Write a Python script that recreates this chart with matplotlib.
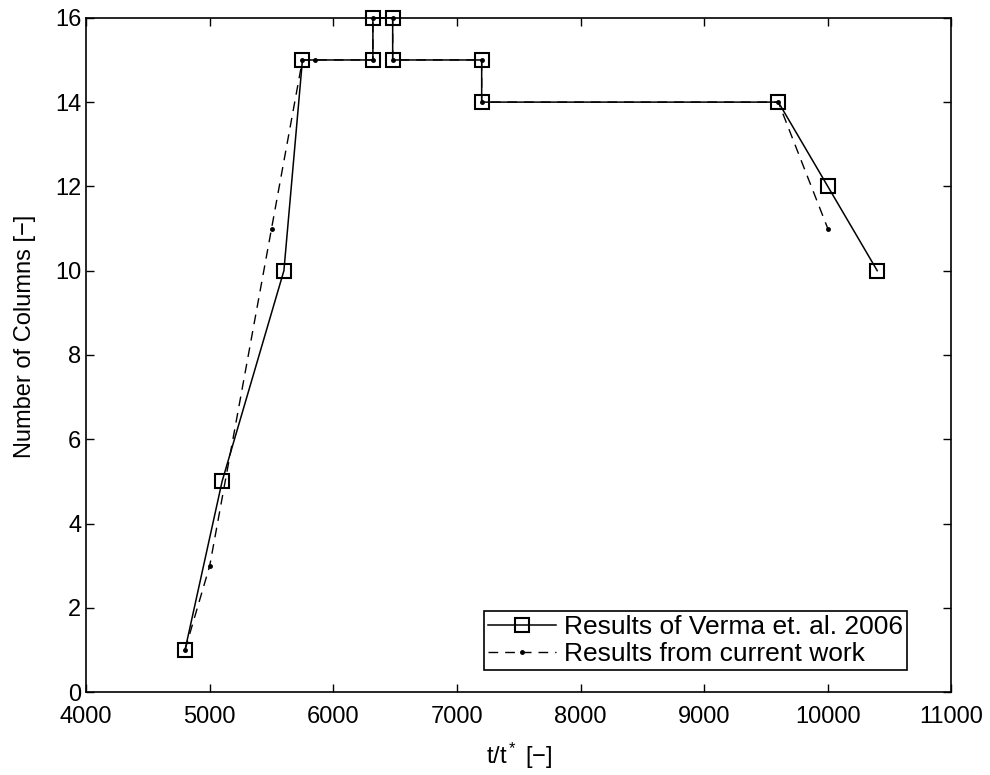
import matplotlib
matplotlib.use("Agg")
import matplotlib.pyplot as plt

# Verma et al. 2006
verma_t = [4800, 5100, 5600, 5750, 6320, 6320, 6480, 6480, 7200, 7200,
           9600, 10000, 10400]
verma_n = [1, 5, 10, 15, 15, 16, 16, 15, 15, 14, 14, 12, 10]

# current work
current_t = [4800, 5000, 5500, 5750, 5850, 6320, 6320, 6480, 6480, 7200,
             7200, 9600, 10000]
current_n = [1, 3, 11, 15, 15, 15, 16, 16, 15, 15, 14, 14, 11]

x_ticks = [4000, 5000, 6000, 7000, 8000, 9000, 10000, 11000]
y_ticks = [0, 2, 4, 6, 8, 10, 12, 14, 16]

plt.rcParams["font.family"] = ["Liberation Sans", "DejaVu Sans"]
plt.rcParams["mathtext.fontset"] = "custom"
plt.rcParams["mathtext.rm"] = "Liberation Sans"
plt.rcParams["mathtext.it"] = "Liberation Sans"

fig = plt.figure(figsize=(9.9, 7.75), dpi=100)
ax = fig.add_axes([0.087, 0.107, 0.874, 0.870])

ax.plot(verma_t, verma_n, "-", color="black", linewidth=1.1,
        marker="s", markersize=10, markerfacecolor="none",
        markeredgewidth=1.5, label="Results of Verma et. al. 2006",
        clip_on=False, zorder=3)
ax.plot(current_t, current_n, "--", color="black", linewidth=1.0,
        dashes=(7, 5), marker=".", markersize=5,
        label="Results from current work", clip_on=False, zorder=4)

ax.set_xlim(4000, 11000)
ax.set_ylim(0, 16)
ax.set_xticks(x_ticks)
ax.set_yticks(y_ticks)
ax.tick_params(direction="in", top=True, right=True, length=6,
               labelsize=17, width=1)
ax.tick_params(axis="x", pad=10)
for s in ax.spines.values():
    s.set_linewidth(1.2)

ax.set_xlabel("t/t$^*$ [\u2212]", fontsize=17)
ax.set_ylabel("Number of Columns [\u2212]", fontsize=17)
ax.xaxis.set_label_coords(0.5, -0.072)
ax.yaxis.set_label_coords(-0.058, 0.527)

leg = ax.legend(loc="lower right", bbox_to_anchor=(0.949, 0.033),
                borderaxespad=0, fontsize=19, fancybox=False,
                edgecolor="black", framealpha=1, handlelength=2.6,
                handletextpad=0.3, borderpad=0.15, labelspacing=0.1)
leg.get_frame().set_linewidth(1.2)

fig.savefig("out.png", dpi=100)
